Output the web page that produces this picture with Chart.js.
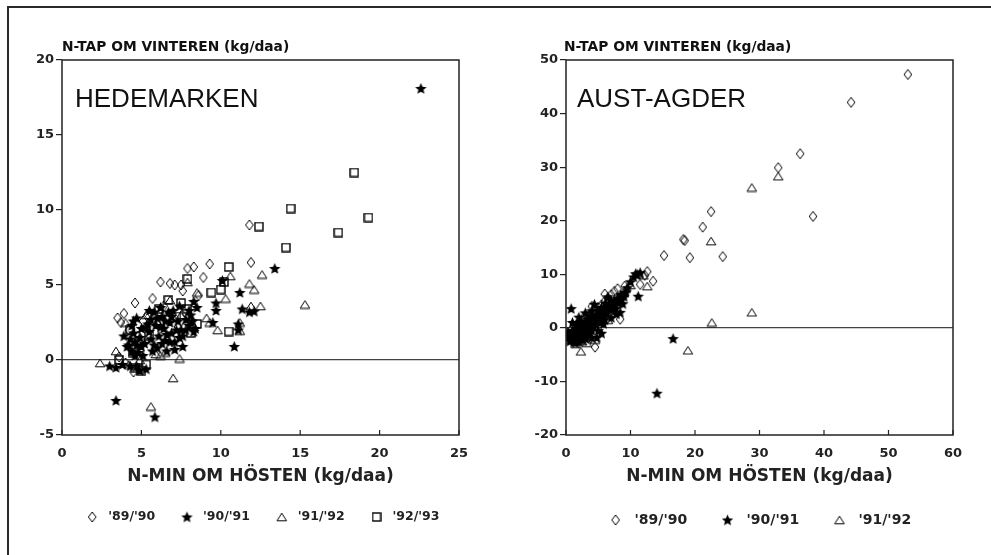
<!DOCTYPE html>
<html>
<head>
<meta charset="utf-8">
<script src="https://cdn.jsdelivr.net/npm/chart.js"></script>
<style>
    body { margin: 0; background: #fff; }
    #wrap { position: relative; width: 991px; height: 555px; overflow: hidden; }
    #frame { position: absolute; left: 7px; top: 6px; width: 990px; height: 560px; border-top: 2px solid #2a2a2a; border-left: 2px solid #2a2a2a; }
    #c1 { position: absolute; left: 0; top: 0; }
    #c2 { position: absolute; left: 495px; top: 0; }
</style>
</head>
<body>
<div id="wrap">
    <div id="frame"></div>
    <canvas id="c1" width="495" height="555"></canvas>
    <canvas id="c2" width="496" height="555"></canvas>
</div>
<script>
var seasons = ["'89/'90", "'90/'91", "'91/'92", "'92/'93"];

// HEDEMARKEN, [N-min autumn, N-loss winter]
var hed8990 = [[11.8, 9.0], [11.9, 6.5], [9.3, 6.4], [7.9, 6.1], [8.3, 6.2], [8.9, 5.5], [6.2, 5.2], [6.8, 5.1], [7.1, 5.0], [7.5, 5.0],
    [7.6, 4.6], [4.6, 3.8], [5.7, 4.1], [3.9, 3.1], [3.7, 2.5], [5.4, 3.0], [8.6, 4.3], [4.2, 2.0], [4.8, 1.6], [3.6, 0.2],
    [4.5, -0.8], [5.0, -0.6], [6.0, 2.4], [5.3, 1.3], [7.7, 3.2], [6.6, 2.9], [3.5, 2.8], [5.1, 2.6], [4.0, -0.2], [7.3, 2.2],
    [8.2, 2.6], [6.4, 3.6]];
var hed9091 = [[22.6, 18.1], [13.4, 6.1], [10.1, 5.3], [11.2, 4.5], [9.7, 3.8], [9.7, 3.3], [11.35, 3.4], [11.8, 3.2], [12.1, 3.25], [9.5, 2.5],
    [11.1, 2.4], [11.1, 2.0], [10.85, 0.9], [3.4, -2.7], [5.85, -3.8], [8.3, 3.9], [8.5, 3.5], [7.6, 0.9], [7.5, 2.0], [8.3, 1.9],
    [8.0, 2.3], [7.3, 2.6], [7.0, 3.3], [3.0, -0.4], [3.4, -0.5], [3.8, -0.3], [4.6, 0.3], [4.9, -0.7], [5.3, -0.6], [4.3, 1.4],
    [4.5, 1.8], [4.4, 2.3], [4.7, 2.8], [5.0, 2.1], [5.2, 1.1], [5.5, 1.9], [5.6, 2.7], [5.8, 3.2], [5.9, 2.3], [6.1, 1.6],
    [6.0, 0.8], [6.3, 2.9], [6.4, 2.1], [6.5, 1.3], [6.6, 0.6], [6.8, 2.5], [6.9, 1.8], [7.1, 1.2], [5.7, 0.6], [4.8, 0.5],
    [4.1, 0.9], [6.2, 3.5], [7.4, 3.6], [8.1, 3.0], [7.8, 2.7], [4.5, 2.6], [5.4, 2.4], [6.7, 3.2], [7.6, 1.6], [8.4, 2.1],
    [4.2, 1.0], [4.4, 0.6], [4.7, 1.0], [4.9, 1.5], [5.1, 0.3], [5.3, 2.2], [5.6, 1.4], [5.8, 1.0], [6.0, 2.8], [6.2, 2.2],
    [6.3, 1.1], [6.6, 1.7], [6.9, 2.9], [7.2, 2.0], [7.4, 1.5], [7.8, 2.0], [8.0, 3.3], [8.2, 2.6], [4.6, 1.2], [5.0, 0.9],
    [3.9, 1.6], [4.3, -0.4], [4.7, -0.4], [5.5, 3.3], [6.8, 1.2], [7.1, 0.7], [6.5, 2.6]];
var hed9192 = [[12.6, 5.7], [10.6, 5.6], [11.8, 5.1], [12.1, 4.7], [10.3, 4.1], [12.5, 3.6], [11.9, 3.6], [15.3, 3.7], [9.3, 2.5], [9.8, 2.0],
    [11.2, 1.95], [11.2, 2.5], [7.4, 0.1], [7.0, -1.2], [5.6, -3.1], [2.4, -0.2], [3.4, 0.6], [7.9, 5.2], [8.5, 4.5], [9.1, 2.8],
    [4.0, 2.5], [4.7, 1.3], [5.9, 0.4], [6.5, 0.5], [7.0, 2.8], [7.5, 3.0], [8.3, 3.6], [4.2, -0.3], [6.8, 4.0], [7.7, 2.3],
    [5.3, 3.0], [4.9, 0.0], [6.2, 0.3]];
var hed9293 = [[18.4, 12.5], [14.4, 10.1], [19.3, 9.5], [12.4, 8.9], [17.4, 8.5], [14.1, 7.5], [10.5, 6.2], [10.2, 5.2], [9.4, 4.5], [10.0, 4.7],
    [10.5, 1.9], [6.7, 4.0], [7.5, 3.8], [4.3, 2.0], [5.3, -0.3], [8.1, 1.8], [7.9, 5.4], [5.0, -0.7], [4.6, -0.5], [7.9, 3.4],
    [6.2, 2.6], [5.5, 1.6], [7.2, 2.9], [4.5, 0.5], [3.6, 0.0], [8.5, 2.4], [6.1, 3.4]];

// AUST-AGDER
var aus8990 = [[53.0, 47.3], [44.2, 42.1], [36.3, 32.5], [32.9, 29.9], [38.3, 20.8], [22.5, 21.7], [21.2, 18.8], [18.2, 16.5], [18.4, 16.3], [15.2, 13.5],
    [19.2, 13.1], [24.3, 13.3], [12.6, 10.5], [13.5, 8.7], [11.5, 8.1], [9.1, 7.8], [8.4, 1.6], [4.5, -3.6], [1.0, -1.5], [1.5, -0.8],
    [2.0, -0.3], [2.5, 0.5], [3.0, 1.2], [3.5, 1.8], [4.0, 2.5], [4.5, 3.0], [5.0, 3.8], [5.5, 4.3], [6.0, 5.0], [6.5, 5.5],
    [7.0, 6.2], [7.5, 6.8], [8.0, 7.3], [2.2, -1.8], [3.2, -0.6], [4.2, 0.8], [5.2, 1.6], [6.3, 2.5], [7.3, 3.4], [3.8, -2.0],
    [0.3, -0.9], [2.8, 2.0], [4.0, 4.0], [6.0, 6.3], [9.5, 7.0], [12.2, 9.8]];
var aus9091 = [[0.8, 3.6], [14.1, -12.2], [16.6, -2.0], [11.2, 5.9], [11.0, 10.0], [4.8, -1.8], [8.4, 2.9], [0.5, -1.5], [0.8, -2.0], [1.0, -0.5],
    [1.3, -1.2], [1.5, 0.0], [1.8, -1.8], [2.0, -0.8], [2.2, 0.3], [2.5, -1.2], [2.8, -0.2], [3.0, 0.8], [3.2, -1.5], [3.5, 0.2],
    [3.7, 1.3], [4.0, -0.5], [4.2, 1.8], [4.5, 0.8], [4.8, 2.4], [5.0, 1.2], [5.3, 3.0], [5.6, 2.0], [6.0, 3.5], [6.3, 2.8],
    [6.7, 4.2], [7.0, 3.5], [7.5, 5.0], [8.0, 5.5], [8.5, 6.2], [9.0, 5.8], [9.5, 7.5], [10.5, 9.5], [11.5, 10.3], [1.2, -2.6],
    [2.6, -2.3], [3.6, -1.0], [5.8, 0.8], [7.8, 2.6], [8.8, 4.5], [0.3, -0.8], [6.5, 5.8], [2.3, 1.2], [4.0, 3.2],
    [0.6, -2.5], [0.9, -1.0], [1.1, -1.8], [1.4, -2.2], [1.6, -1.0], [1.9, -0.2], [2.1, -1.5], [2.4, -0.6], [2.7, 0.6], [2.9, -1.0],
    [3.1, 0.0], [3.3, 1.6], [3.4, -0.4], [3.8, 0.6], [3.9, 2.2], [4.3, 0.2], [4.6, 1.6], [4.9, 3.2], [5.1, 2.0], [5.4, 1.0],
    [5.5, 3.8], [5.9, 2.5], [6.1, 4.6], [6.4, 3.6], [6.9, 5.2], [7.2, 4.2], [7.7, 3.6], [8.2, 4.6], [8.6, 5.3], [9.2, 6.6],
    [10.0, 8.6], [10.8, 10.1], [1.7, 0.8], [2.0, -2.6], [3.0, -2.0], [0.2, -1.8],
    [2.0, 2.0], [3.0, 2.8], [4.0, -1.8], [5.0, -0.5], [6.0, 1.5], [7.0, 1.9], [1.0, 1.0], [1.5, -2.8], [5.5, -1.0], [4.4, 4.4]];
var aus9192 = [[28.8, 26.2], [32.9, 28.3], [22.5, 16.2], [28.8, 2.9], [22.6, 1.0], [18.9, -4.2], [2.3, -4.4], [12.6, 7.8], [11.2, 10.0], [2.5, -2.5],
    [12.0, 9.8], [1.0, -1.0], [2.0, 0.5], [3.0, -0.8], [4.0, 1.5], [5.0, 2.5], [6.0, 3.0], [7.0, 4.5], [8.0, 5.8], [3.5, 2.5],
    [1.5, -3.0], [4.5, -2.2], [9.0, 6.8], [6.5, 1.5], [0.4, -2.2], [10.0, 8.0], [3.2, -2.8]];

var hedX = [0, 25, 5];    // min, max, step
var hedY = [-5, 20, 5];
var ausX = [0, 60, 10];
var ausY = [-20, 50, 10];

var ink = "#222";
Chart.defaults.font.family = '"DejaVu Sans"';
Chart.defaults.color = ink;

function makeMarker(kind) {
    var c = document.createElement("canvas");
    var g = c.getContext("2d");
    g.strokeStyle = ink;
    g.fillStyle = "#1a1a1a";
    g.lineWidth = 1.35;
    if (kind === "diamond") {
        c.width = 10; c.height = 12;
        g.beginPath();
        g.moveTo(5, 1); g.lineTo(8.8, 6); g.lineTo(5, 11); g.lineTo(1.2, 6);
        g.closePath(); g.stroke();
    } else if (kind === "star") {
        c.width = 13; c.height = 13;
        g.beginPath();
        for (let i = 0; i < 10; i++) {
            let r = i % 2 === 0 ? 6 : 2.7;
            let a = -Math.PI / 2 + i * Math.PI / 5;
            g.lineTo(6.5 + r * Math.cos(a), 7 + r * Math.sin(a));
        }
        g.closePath(); g.fill();
    } else if (kind === "triangle") {
        c.width = 12; c.height = 10;
        g.beginPath();
        g.moveTo(6, 1.2); g.lineTo(10.8, 8.8); g.lineTo(1.2, 8.8);
        g.closePath(); g.stroke();
    } else {
        c.width = 10; c.height = 10;
        g.lineWidth = 1.4;
        g.strokeRect(1, 1, 8, 8);
    }
    return c;
}

var markers = [makeMarker("diamond"), makeMarker("star"), makeMarker("triangle"), makeMarker("square")];

function makeDataset(i, pairs) {
    return {
        label: seasons[i],
        data: pairs.map(function (p) { return { x: p[0], y: p[1] }; }),
        pointStyle: markers[i],
        pointRadius: 5,
        showLine: false,
        order: i === 1 ? 0 : 1   // stars on top
    };
}

var panelPlugin = {
    id: "panel",
    beforeDraw: function (chart, args, opts) {
        // move the legend row sideways to where the original puts it
        chart.legend.left = opts.legendLeft;
        chart.legend.right = opts.legendRight;
    },
    afterDraw: function (chart, args, opts) {
        var ctx = chart.ctx, a = chart.chartArea, x = chart.scales.x;
        ctx.save();
        ctx.strokeStyle = ink;
        ctx.lineWidth = 1.5;
        ctx.strokeRect(a.left, a.top, a.right - a.left, a.bottom - a.top);
        // short ticks pointing into the plot
        ctx.lineWidth = 1.2;
        x.ticks.forEach(function (t) {
            var px = x.getPixelForValue(t.value);
            ctx.beginPath();
            ctx.moveTo(px, a.bottom);
            ctx.lineTo(px, a.bottom - 5);
            ctx.stroke();
        });
        ctx.fillStyle = "#111";
        ctx.font = '26px "Liberation Sans"';
        ctx.textBaseline = "alphabetic";
        ctx.fillText(opts.name, a.left + opts.nameShift, 107);
        ctx.font = 'bold 13.8px "DejaVu Sans"';
        ctx.textBaseline = "middle";
        ctx.fillText("N-TAP OM VINTEREN (kg/daa)", a.left + opts.titleShift, 47);
        ctx.restore();
    }
};

function makeChart(id, p) {
    var ctx = document.getElementById(id).getContext("2d");
    return new Chart(ctx, {
        type: "scatter",
        data: { datasets: p.datasets },
        plugins: [panelPlugin],
        options: {
            responsive: false,
            animation: false,
            events: [],
            layout: { padding: p.padding },
            scales: {
                x: {
                    type: "linear",
                    min: p.xr[0], max: p.xr[1],
                    ticks: { stepSize: p.xr[2], padding: 11, font: { size: 13, weight: "bold" }, color: ink },
                    grid: { display: false, drawTicks: false },
                    border: { display: false },
                    title: {
                        display: true,
                        text: "N-MIN OM HÖSTEN (kg/daa)",
                        font: { size: 17, weight: "bold" },
                        color: ink,
                        padding: { top: 0, bottom: p.titlePad }
                    },
                    afterFit: function (s) { s.height = p.xHeight; }
                },
                y: {
                    min: p.yr[0], max: p.yr[1],
                    ticks: { stepSize: p.yr[2], padding: 2, font: { size: 13, weight: "bold" }, color: ink },
                    grid: {
                        color: function (c) { return c.tick && c.tick.value === 0 ? "#444" : "rgba(0,0,0,0)"; },
                        lineWidth: 1.2,
                        tickColor: ink,
                        tickLength: 6
                    },
                    border: { display: false },
                    afterFit: function (s) { s.width = p.yWidth; }
                }
            },
            plugins: {
                legend: {
                    position: "bottom",
                    labels: {
                        usePointStyle: true,
                        pointStyleWidth: p.boxW,
                        padding: p.legendPad,
                        font: { size: p.legendFont, weight: "bold" },
                        color: ink,
                        sort: function (a, b) { return a.datasetIndex - b.datasetIndex; }
                    }
                },
                tooltip: { enabled: false },
                panel: { name: p.name, nameShift: p.nameShift, titleShift: p.titleShift, legendLeft: p.legendLR[0], legendRight: p.legendLR[1] }
            }
        }
    });
}

makeChart("c1", {
    name: "HEDEMARKEN", nameShift: 13, titleShift: 0,
    datasets: [makeDataset(0, hed8990), makeDataset(1, hed9091), makeDataset(2, hed9192), makeDataset(3, hed9293)],
    xr: hedX, yr: hedY,
    padding: { left: 0, right: 36, top: 60, bottom: 21.75 },
    yWidth: 62, xHeight: 53.75, titlePad: 1.55,
    boxW: 19.5, legendPad: 22, legendFont: 12.5, legendLR: [52, 470]
});

makeChart("c2", {
    name: "AUST-AGDER", nameShift: 11, titleShift: -2,
    datasets: [makeDataset(0, aus8990), makeDataset(1, aus9091), makeDataset(2, aus9192)],
    xr: ausX, yr: ausY,
    padding: { left: 0, right: 38, top: 60, bottom: 18 },
    yWidth: 71, xHeight: 49.7, titlePad: -2.5,
    boxW: 24, legendPad: 28.3, legendFont: 14, legendLR: [66.7, 458]
});
</script>
</body>
</html>
